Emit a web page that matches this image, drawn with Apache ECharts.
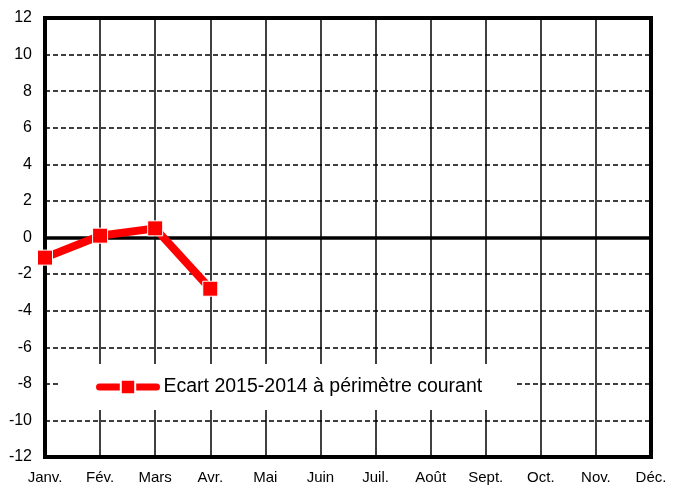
<!DOCTYPE html>
<html>
<head>
<meta charset="utf-8">
<script src="https://cdn.jsdelivr.net/npm/echarts@6/dist/echarts.min.js"></script>
<style>
  html, body { margin: 0; padding: 0; background: #fff; }
  #chart { width: 676px; height: 488px; }
</style>
</head>
<body>
<div id="chart"></div>
<script>
// mois (axe des x)
const months = ['Janv.', 'Fév.', 'Mars', 'Avr.', 'Mai', 'Juin', 'Juil.', 'Août', 'Sept.', 'Oct.', 'Nov.', 'Déc.'];
// écart 2015-2014 (seulement les 4 premiers mois)
const ecart = [-1.1, 0.1, 0.5, -2.8];
const seriesName = 'Ecart 2015-2014 à périmètre courant';
// axe des y
const yMin = -12, yMax = 12, yStep = 2;

document.addEventListener('DOMContentLoaded', function () {
    const chart = echarts.init(document.getElementById('chart'));
    const font = 'Liberation Sans, Arial, sans-serif';

    const option = {
        animation: false,
        grid: {
            left: 45, right: 25, top: 18, bottom: 31,
            show: true,
            borderColor: '#000',
            borderWidth: 4,
            backgroundColor: '#fff'
        },
        legend: {
            left: 59,
            top: 364,
            padding: [13, 32, 13, 37],
            backgroundColor: '#fff',
            itemWidth: 57,
            itemHeight: 18,
            itemGap: 0,
            lineStyle: { width: 7, cap: 'round' },
            textStyle: { color: '#000', fontSize: 19.5, fontFamily: font, padding: [0, 0, 0, 2] },
            data: [seriesName]
        },
        xAxis: {
            type: 'category',
            data: months,
            boundaryGap: false,
            axisLine: { show: false },
            axisTick: { show: false },
            axisLabel: { interval: 0, color: '#000', fontSize: 15, fontFamily: font, margin: 13 },
            splitLine: { show: true, interval: 0, lineStyle: { color: '#000', width: 1.5 } }
        },
        yAxis: {
            type: 'value',
            min: yMin,
            max: yMax,
            interval: yStep,
            axisLine: { show: false },
            axisTick: { show: false },
            axisLabel: { color: '#000', fontSize: 16, fontFamily: font, margin: 13 },
            splitLine: { lineStyle: { color: '#000', width: 1.5, type: [5, 3] } }
        },
        series: [{
            name: seriesName,
            type: 'line',
            data: ecart,
            symbol: 'rect',
            symbolSize: 15,
            lineStyle: { color: '#ff0000', width: 8 },
            itemStyle: { color: '#ff0000', borderColor: '#fff', borderWidth: 1 },
            markLine: {
                silent: true,
                symbol: 'none',
                label: { show: false },
                lineStyle: { color: '#000', width: 3.5, type: 'solid' },
                data: [{ yAxis: 0 }],
                z: 1
            },
            z: 3
        }]
    };

    chart.setOption(option);
});
</script>
</body>
</html>
